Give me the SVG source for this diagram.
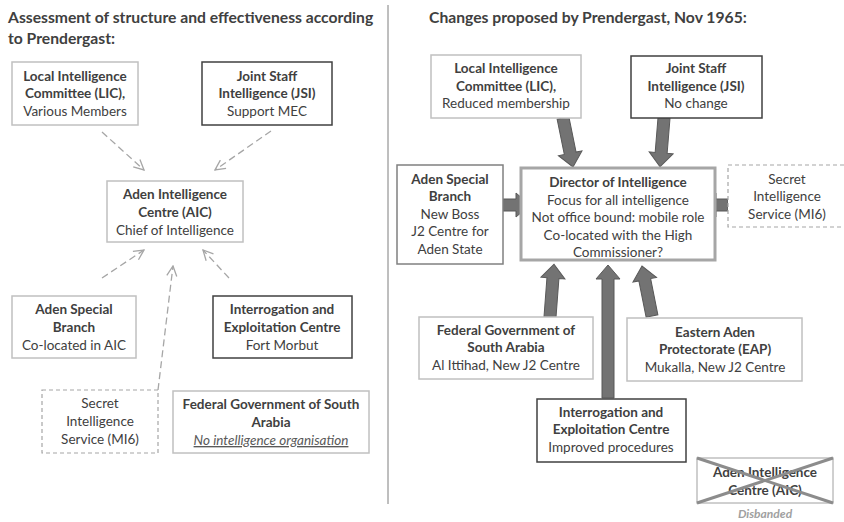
<svg xmlns="http://www.w3.org/2000/svg" width="844" height="522" viewBox="0 0 844 522">
<style>
text{font-family:Lato,"Liberation Sans",sans-serif;font-size:13.5px;fill:#404040;text-anchor:middle}
.t{font-size:15.7px;font-weight:bold;text-anchor:start}
.b{font-weight:bold}
.lt{fill:#fff;stroke:#c0c0c0;stroke-width:1.5}
.dk{fill:#fff;stroke:#404040;stroke-width:1.5}
.md{fill:#fff;stroke:#808080;stroke-width:1.5}
.ds{fill:#fff;stroke:#a6a6a6;stroke-width:1.2;stroke-dasharray:4 3}
.dir{fill:#fff;stroke:#a6a6a6;stroke-width:3}
.dc{fill:none;stroke:#a6a6a6;stroke-width:1.3;stroke-dasharray:7 4}
.ba{fill:#737373;stroke:#595959;stroke-width:1}
</style>
<defs>
<marker id="oa" viewBox="0 0 12 12" refX="11" refY="6" markerWidth="12" markerHeight="12" markerUnits="userSpaceOnUse" orient="auto">
<path d="M1,1 L11,6 L1,11" fill="none" stroke="#a6a6a6" stroke-width="1.3"/>
</marker>
</defs>
<rect width="844" height="522" fill="#fff"/>
<line x1="388" y1="5" x2="388" y2="504" stroke="#7f7f7f" stroke-width="1"/>
<text class="t" x="8" y="23">Assessment of structure and effectiveness according</text>
<text class="t" x="8" y="44">to Prendergast:</text>
<text class="t" x="429" y="23">Changes proposed by Prendergast, Nov 1965:</text>

<g id="connectors">
<line class="dc" x1="102" y1="132" x2="144" y2="170" marker-end="url(#oa)"/>
<line class="dc" x1="271" y1="131" x2="215" y2="170" marker-end="url(#oa)"/>
<line class="dc" x1="102" y1="278" x2="144" y2="250" marker-end="url(#oa)"/>
<line class="dc" x1="229" y1="278" x2="203" y2="250" marker-end="url(#oa)"/>
<line class="dc" x1="158" y1="390" x2="173" y2="266" marker-end="url(#oa)"/>
<path class="ba" transform="translate(563,118) rotate(78.47)" d="M0,-6 L36,-6 L36,-12 L50,0 L36,12 L36,6 L0,6 Z"/>
<path class="ba" transform="translate(664,118) rotate(94.67)" d="M0,-6 L35,-6 L35,-12 L49,0 L35,12 L35,6 L0,6 Z"/>
<path class="ba" transform="translate(503,205)" d="M0,-6 L13,-6 L13,-12 L27,0 L13,12 L13,6 L0,6 Z"/>
<path class="ba" transform="translate(728,205) rotate(180)" d="M0,-6 L12,-6 L12,-12 L26,0 L12,12 L12,6 L0,6 Z"/>
<path class="ba" transform="translate(550,317) rotate(-85.68)" d="M0,-6 L39,-6 L39,-12 L53,0 L39,12 L39,6 L0,6 Z"/>
<path class="ba" transform="translate(608,398) rotate(-90)" d="M0,-6 L119,-6 L119,-12 L133,0 L119,12 L119,6 L0,6 Z"/>
<path class="ba" transform="translate(652,316) rotate(-101.31)" d="M0,-6 L37,-6 L37,-12 L51,0 L37,12 L37,6 L0,6 Z"/>
</g>

<g id="l-lic"><rect class="lt" x="12" y="62" width="126" height="63"/>
<text class="b" x="75" y="81">Local Intelligence</text><text class="b" x="75" y="98">Committee (LIC),</text><text x="75" y="116">Various Members</text></g>
<g id="l-jsi"><rect class="dk" x="202" y="62" width="130" height="63"/>
<text class="b" x="267" y="81">Joint Staff</text><text class="b" x="267" y="98">Intelligence (JSI)</text><text x="267" y="116">Support MEC</text></g>
<g id="l-aic"><rect class="lt" x="107" y="181" width="136" height="61"/>
<text class="b" x="175" y="199">Aden Intelligence</text><text class="b" x="175" y="217">Centre (AIC)</text><text x="175" y="235">Chief of Intelligence</text></g>
<g id="l-asb"><rect class="lt" x="12" y="296" width="124" height="62"/>
<text class="b" x="74" y="314">Aden Special</text><text class="b" x="74" y="332">Branch</text><text x="74" y="350">Co-located in AIC</text></g>
<g id="l-iec"><rect class="dk" x="213" y="296" width="139" height="62"/>
<text class="b" x="282" y="314">Interrogation and</text><text class="b" x="282" y="332">Exploitation Centre</text><text x="282" y="350">Fort Morbut</text></g>
<g id="l-mi6"><rect class="ds" x="42" y="390" width="116" height="63"/>
<text x="100" y="408">Secret</text><text x="100" y="426">Intelligence</text><text x="100" y="444">Service (MI6)</text></g>
<g id="l-fgsa"><rect class="lt" x="173" y="391" width="196" height="62"/>
<text class="b" x="271" y="409">Federal Government of South</text><text class="b" x="271" y="427">Arabia</text><text x="271" y="445" style="font-style:italic;text-decoration:underline;fill:#595959">No intelligence organisation</text></g>

<g id="r-lic"><rect class="lt" x="431" y="55" width="150" height="63"/>
<text class="b" x="506" y="73">Local Intelligence</text><text class="b" x="506" y="91">Committee (LIC),</text><text x="506" y="108">Reduced membership</text></g>
<g id="r-jsi"><rect class="dk" x="631" y="56" width="131" height="62"/>
<text class="b" x="696" y="73">Joint Staff</text><text class="b" x="696" y="91">Intelligence (JSI)</text><text x="696" y="108">No change</text></g>
<g id="r-dir"><rect class="dir" x="521" y="168" width="194" height="92"/>
<text class="b" x="618" y="187">Director of Intelligence</text><text x="618" y="205">Focus for all intelligence</text><text x="618" y="222">Not office bound: mobile role</text><text x="618" y="240">Co-located with the High</text><text x="618" y="257">Commissioner?</text></g>
<g id="r-asb"><rect class="md" x="397" y="165" width="106" height="99"/>
<text class="b" x="450" y="184">Aden Special</text><text class="b" x="450" y="201">Branch</text><text x="450" y="219">New Boss</text><text x="450" y="236">J2 Centre for</text><text x="450" y="254">Aden State</text></g>
<g id="r-mi6"><rect class="ds" x="728" y="165" width="120" height="62"/>
<text x="787" y="184">Secret</text><text x="787" y="201">Intelligence</text><text x="787" y="219">Service (MI6)</text></g>
<g id="r-fgsa"><rect class="lt" x="419" y="317" width="174" height="62"/>
<text class="b" x="506" y="335">Federal Government of</text><text class="b" x="506" y="352">South Arabia</text><text x="506" y="370">Al Ittihad, New J2 Centre</text></g>
<g id="r-eap"><rect class="lt" x="627" y="318" width="175" height="63"/>
<text class="b" x="715" y="337">Eastern Aden</text><text class="b" x="715" y="354">Protectorate (EAP)</text><text x="715" y="372">Mukalla, New J2 Centre</text></g>
<g id="r-iec"><rect class="dk" x="537" y="399" width="149" height="63"/>
<text class="b" x="611" y="417">Interrogation and</text><text class="b" x="611" y="434">Exploitation Centre</text><text x="611" y="452">Improved procedures</text></g>
<g id="r-aic"><rect class="lt" x="697" y="458" width="136" height="45"/>
<text class="b" x="765" y="477">Aden Intelligence</text><text class="b" x="765" y="495">Centre (AIC)</text>
<line x1="697" y1="458" x2="833" y2="503" stroke="#8c8c8c" stroke-width="3"/>
<line x1="697" y1="503" x2="833" y2="458" stroke="#8c8c8c" stroke-width="3"/>
<text x="765" y="518" style="font-style:italic;font-weight:bold;fill:#a0a0a0;font-size:12px">Disbanded</text></g>
</svg>
